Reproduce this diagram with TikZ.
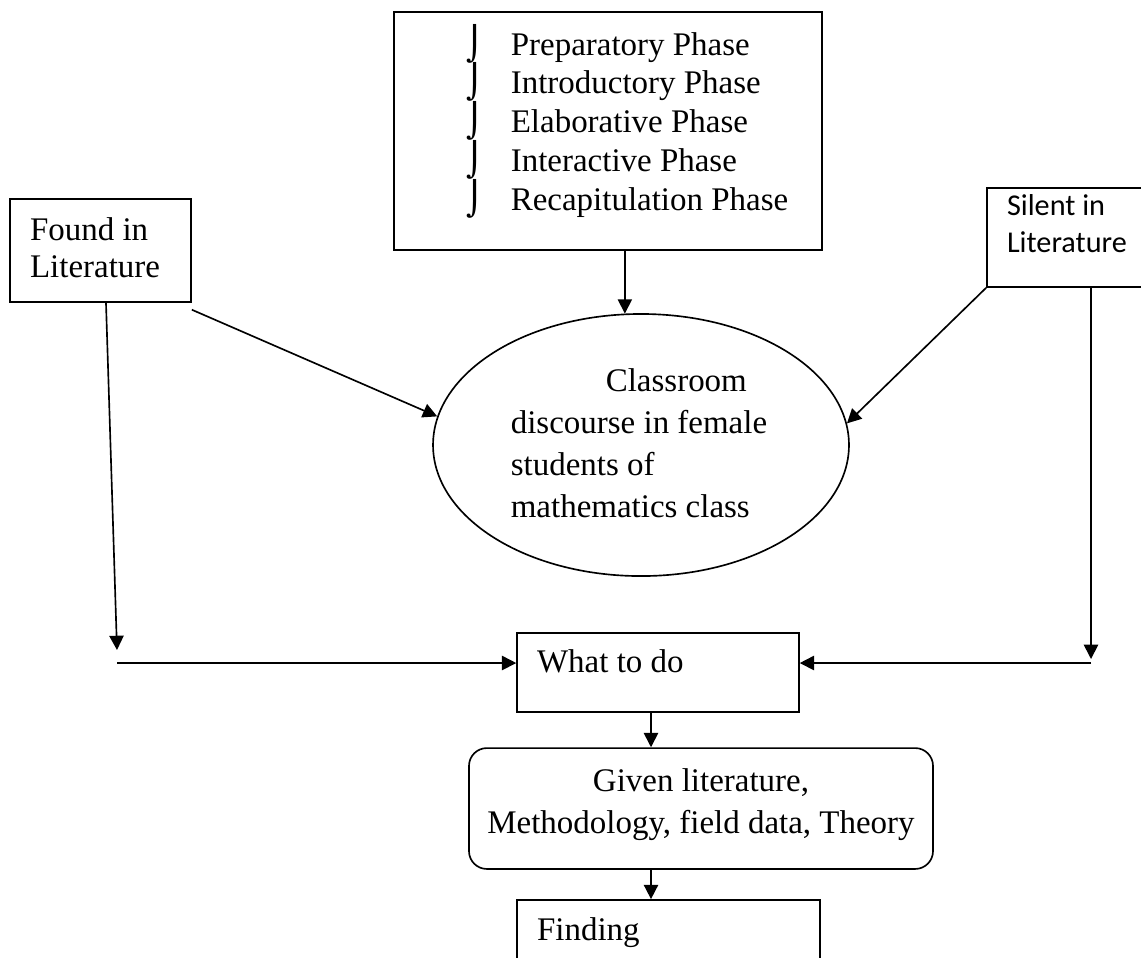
\documentclass[tikz,border=0pt]{standalone}
\usepackage{fontspec}
\setmainfont{Liberation Serif}
\newfontfamily\calibri{Carlito}
\newfontfamily\dejavu{DejaVu Sans}
\usetikzlibrary{shapes,arrows.meta,positioning,calc}

\begin{document}
\begin{tikzpicture}[x=0.364pt,y=-0.364pt,line width=0.6pt,
	box/.style={draw,rectangle,inner xsep=7.3pt,inner ysep=0pt,align=flush left,font=\fontsize{12}{13.6}\selectfont},
	arr/.style={-{Triangle[length=5.2pt,width=5.2pt]}}]
\useasboundingbox (0,0) rectangle (1141,957);

\node[draw,minimum width=155.8pt,minimum height=86.6pt] (phases) at (608,131) {};
\foreach \p [count=\n] in {Preparatory,Introductory,Elaborative,Interactive,Recapitulation} {
	\node[anchor=base west,inner sep=0pt,font=\dejavu\fontsize{12}{14}\selectfont] (B\n) at (466,{55+38.75*(\n-1)}) {⌡};
	\node[anchor=base west,inner sep=0pt,font=\fontsize{12}{14}\selectfont] (P\n) at (510,{55+38.75*(\n-1)}) {\p{} Phase};
}

\node[box,text width=51.3pt,minimum height=37.5pt,text depth=15.8pt] (found) at (100.5,250.5) {Found in\\Literature};
\node[box,text width=48.4pt,minimum height=36pt,text depth=24pt,font=\calibri\fontsize{11}{13.5}\selectfont] (silent) at (1073.5,237.5) {Silent in\\Literature};

\node[draw,ellipse,minimum width=151.4pt,minimum height=95.4pt,inner sep=0pt] (discourse) at (641,445) {};
\foreach \x/\t [count=\n] in {605/Classroom,510/discourse in female,510/students of,510/mathematics class}
	\node[anchor=base west,inner sep=0pt,font=\fontsize{12}{14}\selectfont] (E\n) at (\x,{391+42*(\n-1)}) {\t};

\node[box,text width=88pt,minimum height=28.8pt,text height=8.5pt,text depth=8.5pt] (todo) at (658,672.5) {What to do};
\node[draw,rounded corners=6.5pt,align=center,minimum width=168.9pt,minimum height=44pt,text depth=5.5pt,font=\fontsize{12}{15}\selectfont] (given) at (701,808.5) {Given literature,\\Methodology, field data, Theory};
\node[box,text width=95.7pt,minimum height=32.8pt,text height=8.5pt,text depth=12.1pt] (finding) at (668.5,945) {Finding};

\coordinate (fdrop) at (117,650);
\coordinate (fjoin) at (117,663);
\coordinate (sdrop) at (1091,659);
\coordinate (sjoin) at (1091,663);
\coordinate (spine) at (651,0);

\draw[arr] (phases.south -| discourse.97) -- (discourse.97);
\draw[arr] ([yshift=-2.5pt]found.south east) -- (discourse.172);
\draw[arr] (silent.south west) -- (discourse.6);
\draw[arr] ([xshift=2pt]found.south) -- (fdrop);
\draw[arr] (fjoin) -- (fjoin -| todo.west);
\draw[arr] (silent.south -| sdrop) -- (sdrop);
\draw[arr] (sjoin) -- (sjoin -| todo.east);
\draw[arr] (todo.south -| spine) -- (given.north -| spine);
\draw[arr] (given.south -| spine) -- (finding.north -| spine);
\end{tikzpicture}
\end{document}
